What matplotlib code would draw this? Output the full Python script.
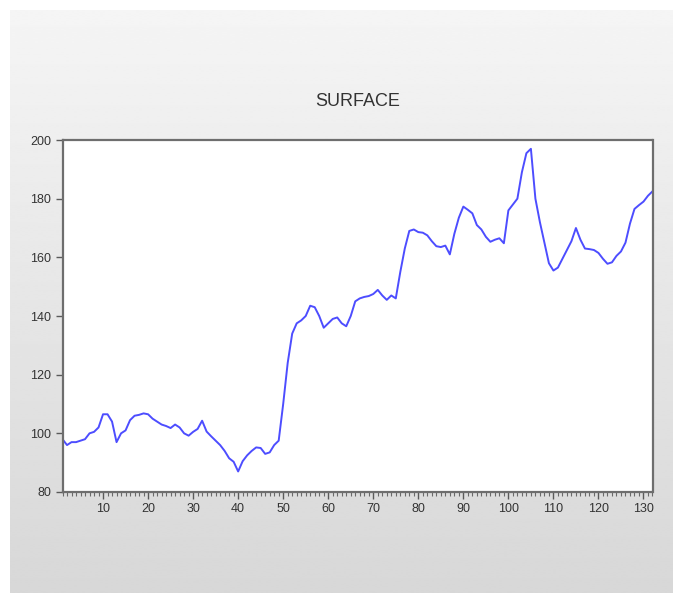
import numpy as np
import matplotlib
matplotlib.use("Agg")
import matplotlib.pyplot as plt
from matplotlib.ticker import MultipleLocator

obs = np.arange(1, 133)
surface = [
    98, 96, 97, 97, 97.5, 98, 100, 100.5, 102, 106.5,
    106.5, 104, 97, 100, 101, 104.5, 106, 106.3, 106.8, 106.5,
    105, 104, 103, 102.5, 101.8, 103, 102, 100, 99.2, 100.5,
    101.5, 104.3, 100.6, 99, 97.5, 96, 94, 91.5, 90.3, 87,
    90.5, 92.5, 94, 95.2, 95, 93, 93.5, 96, 97.5, 110,
    124, 134, 137.5, 138.5, 140, 143.5, 143, 140, 136, 137.5,
    139, 139.5, 137.5, 136.5, 140, 145, 146, 146.5, 146.8, 147.5,
    148.9, 147, 145.5, 147, 146, 155, 163, 169, 169.5, 168.6,
    168.4, 167.5, 165.5, 163.8, 163.5, 164, 161, 168, 173.5, 177.3,
    176.2, 175, 171, 169.5, 167, 165.3, 166, 166.5, 164.8, 176,
    178, 180, 189, 195.5, 197, 180, 172, 165, 158, 155.5,
    156.5, 159.5, 162.5, 165.5, 170, 166, 163, 162.8, 162.5, 161.5,
    159.5, 157.8, 158.3, 160.5, 162, 165, 171.5, 176.5, 177.8, 179,
    181, 182.5,
]
title = "SURFACE"
y_ticks = [80, 100, 120, 140, 160, 180, 200]
x_ticks = list(range(10, 131, 10))

W, H = 673, 603
plt.rcParams['font.family'] = ['Liberation Sans', 'DejaVu Sans']

fig = plt.figure(figsize=(W / 100, H / 100), dpi=100)
fig.patch.set_facecolor('white')

# gray gradient panel behind the chart
bg = fig.add_axes([10 / W, 10 / H, 663 / W, 583 / H])
grad = np.linspace(0.96, 0.845, 256).reshape(-1, 1)
bg.imshow(grad, aspect='auto', cmap='gray', vmin=0, vmax=1, interpolation='bilinear')
bg.set_axis_off()

ax = fig.add_axes([62.5 / W, (H - 492) / H, 590 / W, 352 / H])
ax.set_facecolor('white')
ax.plot(obs, surface, color='#4d4dff', lw=1.4)

ax.set_xlim(1, 132)
ax.set_ylim(80, 200)
ax.set_yticks(y_ticks)
ax.set_xticks(x_ticks)
ax.xaxis.set_minor_locator(MultipleLocator(1))

for s in ax.spines.values():
    s.set_color('#6e6e6e')
    s.set_linewidth(1.6)
ax.tick_params(axis='both', which='major', direction='out', length=5, width=1,
               color='#5a5a5a', labelsize=9, labelcolor='#333333', pad=3)
ax.tick_params(axis='x', which='minor', direction='out', length=3, width=0.8, color='#6a6a6a')

fig.text(357.5 / W, (H - 101) / H, title, ha='center', va='center',
         fontsize=13, color='#333333')

fig.savefig('out.png', dpi=100, facecolor=fig.get_facecolor())
